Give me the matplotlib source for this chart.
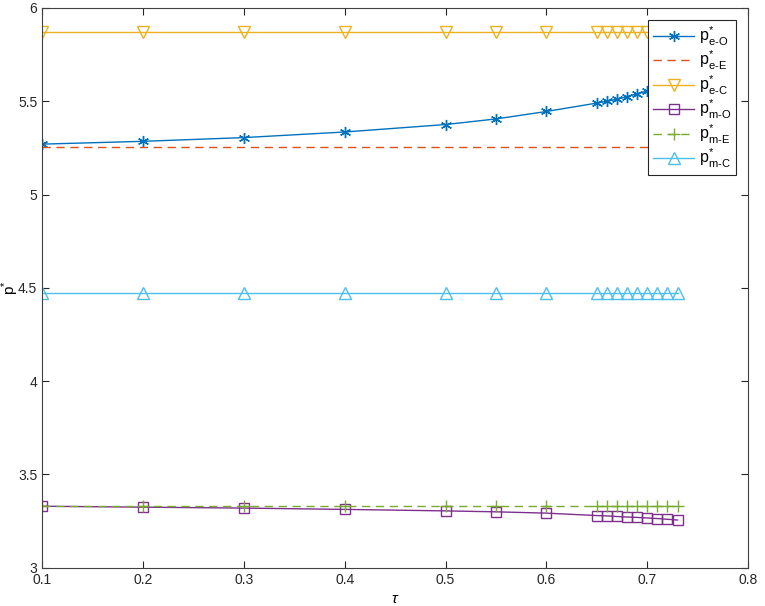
import matplotlib
matplotlib.use("Agg")
import matplotlib.pyplot as plt
import numpy as np

plt.rcParams['font.family'] = ['Liberation Sans', 'DejaVu Sans']
plt.rcParams['mathtext.fontset'] = 'custom'
plt.rcParams['mathtext.rm'] = 'Liberation Sans'
plt.rcParams['mathtext.it'] = 'Liberation Sans:italic'

tau = [0.1, 0.2, 0.3, 0.4, 0.5, 0.55, 0.6, 0.65, 0.66, 0.67, 0.68, 0.69, 0.70, 0.71, 0.72, 0.73]

p_eO = [5.27, 5.285, 5.305, 5.335, 5.375, 5.405, 5.445, 5.49, 5.50, 5.51, 5.525, 5.54, 5.555, 5.57, 5.585, 5.60]
p_eE = [5.252] * len(tau)
p_eC = [5.871] * len(tau)
p_mO = [3.33, 3.325, 3.32, 3.313, 3.305, 3.30, 3.293, 3.28, 3.278, 3.275, 3.272, 3.27, 3.267, 3.264, 3.26, 3.256]
p_mE = [3.332] * len(tau)
p_mC = [4.472] * len(tau)

labels = [r'$\mathrm{p}^{*}_{\mathrm{e\text{-}O}}$', r'$\mathrm{p}^{*}_{\mathrm{e\text{-}E}}$',
          r'$\mathrm{p}^{*}_{\mathrm{e\text{-}C}}$', r'$\mathrm{p}^{*}_{\mathrm{m\text{-}O}}$',
          r'$\mathrm{p}^{*}_{\mathrm{m\text{-}E}}$', r'$\mathrm{p}^{*}_{\mathrm{m\text{-}C}}$']

fig = plt.figure(figsize=(7.65, 6.06), dpi=100)
ax = fig.add_axes([0.055, 0.063, 0.923, 0.924])

ax.plot(tau, p_eO, color='#0072BD', lw=1, marker=(6, 2, 0), ms=8, mew=1, label=labels[0])
ax.plot(tau, p_eE, color='#D95319', lw=1, ls=(0, (6, 4)), label=labels[1])
ax.plot(tau, p_eC, color='#EDB120', lw=1, marker='v', ms=9, mfc='none', mew=1, label=labels[2])
ax.plot(tau, p_mO, color='#7E2F8E', lw=1, marker='s', ms=7, mfc='none', mew=1, label=labels[3])
ax.plot(tau, p_mE, color='#77AC30', lw=1, ls=(0, (6, 4)), marker='+', ms=9, mew=1, label=labels[4])
ax.plot(tau, p_mC, color='#4DBEEE', lw=1, marker='^', ms=9, mfc='none', mew=1, label=labels[5])

ax.set_xlim(0.1, 0.8)
ax.set_ylim(3, 6)
ax.set_xticks(np.arange(0.1, 0.81, 0.1))
ax.set_xticklabels(['0.1', '0.2', '0.3', '0.4', '0.5', '0.6', '0.7', '0.8'])
ax.set_yticks([3, 3.5, 4, 4.5, 5, 5.5, 6])
ax.set_yticklabels(['3', '3.5', '4', '4.5', '5', '5.5', '6'])
ax.tick_params(direction='in', top=True, right=True, length=5, labelsize=10, colors='#262626', width=0.8)
for s in ax.spines.values():
    s.set_color('#404040')
    s.set_linewidth(0.8)

ax.set_xlabel(r'$\tau$', fontsize=11, labelpad=4)
ax.set_ylabel(r'$\mathrm{p}^{*}$', fontsize=11, labelpad=-2)

leg = ax.legend(loc='upper right', fontsize=11.5, fancybox=False, framealpha=1,
                edgecolor='#262626', borderaxespad=0.75, handlelength=2.6,
                handletextpad=0.3, labelspacing=0.08, borderpad=0.3)
leg.get_frame().set_linewidth(0.8)

fig.savefig('out.png', dpi=100)
